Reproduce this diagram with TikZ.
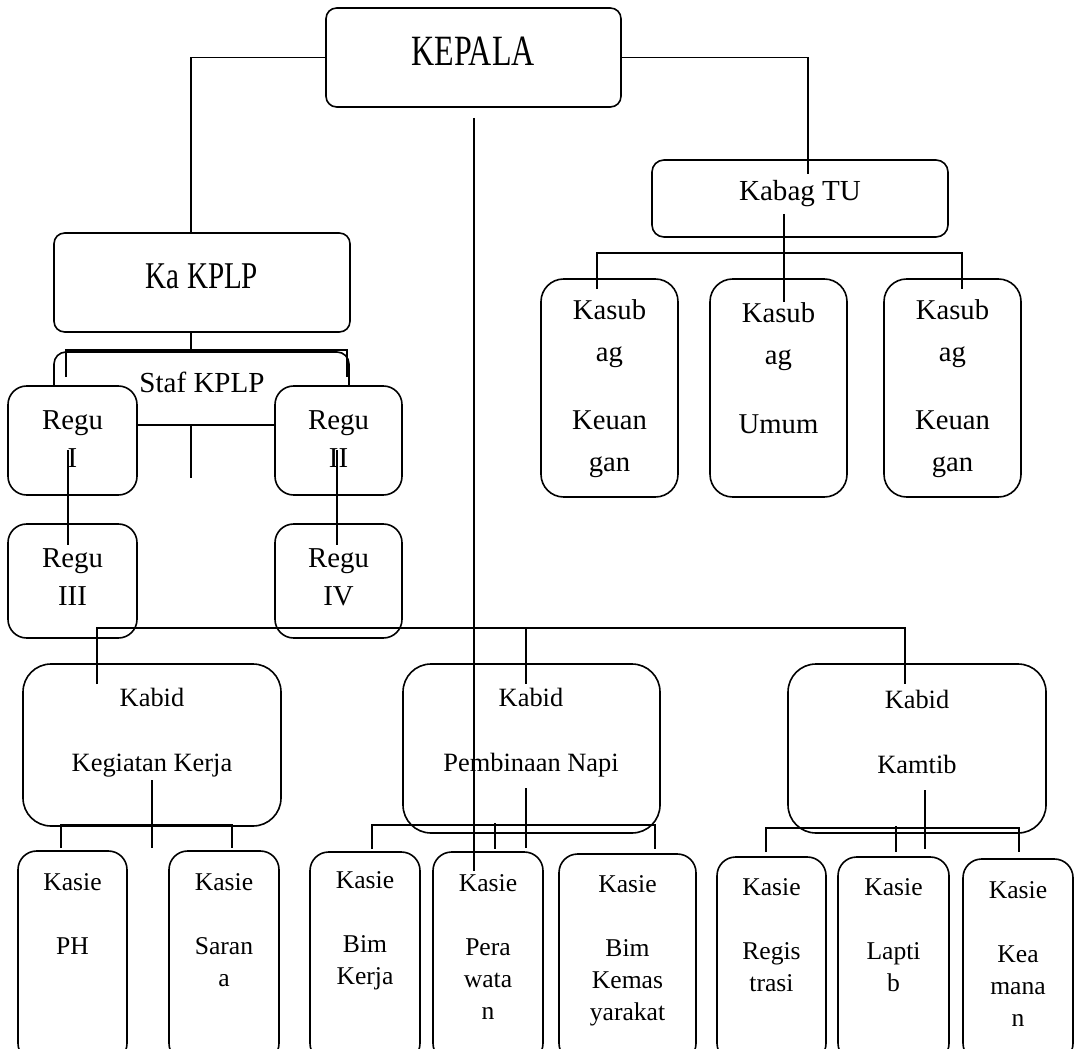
\documentclass[tikz,border=0pt]{standalone}
\usepackage{fontspec}
\usepackage{graphicx}
\setmainfont{Liberation Serif}
\usetikzlibrary{calc}
\newcommand\myKepalaFont{\fontsize{24pt}{28pt}\selectfont}
\newcommand\myTopFont{\fontsize{21.8pt}{28pt}\selectfont}
\newcommand\myReguFont{\fontsize{21.6pt}{28.5pt}\selectfont}
\newcommand\mySubFont{\fontsize{21.5pt}{31.5pt}\selectfont}
\newcommand\myKabidFont{\fontsize{19.8pt}{24pt}\selectfont}
\newcommand\myKasieFont{\fontsize{19.2pt}{24pt}\selectfont}
\newcommand\obox[6]{%
  \pgfmathsetmacro\myBW{(#4-#2)*0.75}%
  \pgfmathsetmacro\myBH{(#5-#3)*0.75}%
  \node[obx, rounded corners=#6pt, minimum width=\myBW pt, minimum height=\myBH pt] (#1) at ({(#2+#4)/2},{(#3+#5)/2}) {};}
\begin{document}
\begin{tikzpicture}[x=0.75pt,y=-0.75pt,
  obx/.style={draw, line width=1.2pt, fill=white, inner sep=0pt},
  ln/.style={draw, line width=1.15pt},
  txt/.style={align=center, inner sep=0pt}]
\path[use as bounding box] (0,0) rectangle (1080,1048);
\clip (0,0) rectangle (1080,1048);
\fill[white] (0,0) rectangle (1080,1048);

% boxes
\obox{staf}{54}{352}{349}{425}{9}
\obox{kepala}{326}{8}{621}{107}{8}
\obox{kaplp}{54}{233}{350}{332}{8}
\obox{kabag}{652}{160}{948}{237}{9}
\obox{ksb1}{541}{279}{678}{497}{17}
\obox{ksb2}{710}{279}{847}{497}{17}
\obox{ksb3}{884}{279}{1021}{497}{17}
\obox{regu1}{8}{386}{137}{495}{14}
\obox{regu2}{275}{386}{402}{495}{14}
\obox{regu3}{8}{524}{137}{638}{14}
\obox{regu4}{275}{524}{402}{638}{14}
\obox{kabid1}{23}{664}{281}{826}{21}
\obox{kabid2}{403}{664}{660}{833}{21}
\obox{kabid3}{788}{664}{1046}{833}{21}
\obox{ph}{18}{851}{127}{1062}{14}
\obox{sarana}{169}{851}{279}{1062}{14}
\obox{bimkerja}{310}{852}{420}{1062}{14}
\obox{perawatan}{433}{852}{543}{1062}{14}
\obox{kemas}{559}{854}{696}{1062}{14}
\obox{regis}{717}{857}{826}{1062}{14}
\obox{laptib}{838}{857}{949}{1062}{14}
\obox{keamanan}{963}{859}{1073}{1062}{14}

% texts
\node[txt, font=\myKepalaFont] (kepalaT) at (473,51) {\scalebox{1}[1.35]{KEPALA}};
\node[txt, font=\myTopFont] (kaplpT) at (202,276) {\scalebox{1}[1.3]{Ka KPLP}};
\node[txt, font=\myTopFont] (kabagT) at (800,194) {Kabag TU};
\node[txt, font=\myTopFont] (stafT) at (202,382) {Staf KPLP};
\node[txt, font=\myReguFont] (regu1T) at (72.5,439) {Regu\\I};
\node[txt, font=\myReguFont] (regu2T) at (338.5,439) {Regu\\II};
\node[txt, font=\myReguFont] (regu3T) at (72.5,577.5) {Regu\\III};
\node[txt, font=\myReguFont] (regu4T) at (338.5,577.5) {Regu\\IV};
\node[txt, font=\mySubFont] (ksb1T) at (609.5,388.5) {Kasub\\ag\\[20pt]Keuan\\gan};
\node[txt, font=\mySubFont] (ksb2T) at (778.5,368.5) {Kasub\\ag\\[20pt]Umum};
\node[txt, font=\mySubFont] (ksb3T) at (952.5,388.5) {Kasub\\ag\\[20pt]Keuan\\gan};
\node[txt, font=\myKabidFont] (kabid1T) at (152,732.5) {Kabid\\[24.75pt]Kegiatan Kerja};
\node[txt, font=\myKabidFont] (kabid2T) at (531,732.5) {Kabid\\[24.75pt]Pembinaan Napi};
\node[txt, font=\myKabidFont] (kabid3T) at (917,731.5) {Kabid\\[24.75pt]Kamtib};
\node[txt, font=\myKasieFont] (phT) at (72.5,914) {Kasie\\[24pt]PH};
\node[txt, font=\myKasieFont] (saranaT) at (224,930) {Kasie\\[24pt]Saran\\a};
\node[txt, font=\myKasieFont] (bimkerjaT) at (365,931) {Kasie\\[24pt]Bim\\Kerja};
\node[txt, font=\myKasieFont] (perawatanT) at (488,947.5) {Kasie\\[24pt]Pera\\wata\\n};
\node[txt, font=\myKasieFont] (kemasT) at (627.5,951) {Kasie\\[24pt]Bim\\Kemas\\yarakat};
\node[txt, font=\myKasieFont] (regisT) at (771.5,935) {Kasie\\[24pt]Regis\\trasi};
\node[txt, font=\myKasieFont] (laptibT) at (893.5,935) {Kasie\\[24pt]Lapti\\b};
\node[txt, font=\myKasieFont] (keamananT) at (1018,954.5) {Kasie\\[24pt]Kea\\mana\\n};

% connectors
\draw[ln] (kepala.west) -| ($(kaplp.north)+(-11,0)$);
\draw[ln] (kepala.east) -| ($(kabag.north)+(8,15)$);
\draw[ln] ($(kepala.south)+(0.5,10)$) -- ($(perawatan.north)+(-14,20)$);
\draw[ln] ($(kaplp.south)+(-11,0)$) -- ($(staf.north)+(-10.5,-1)$);
\draw[ln] ($(regu1.north)+(-6.5,-8)$) |- ($(staf.north)+(0,-1)$) -| ($(regu2.north)+(8.5,-8)$);
\draw[ln] ($(staf.south)+(-10.5,0)$) -- ++(0,52);
\draw[ln] ($(regu1.center)+(-4.5,9.5)$) -- ($(regu3.north)+(-4.5,22)$);
\draw[ln] ($(regu2.center)+(-1.5,9.5)$) -- ($(regu4.north)+(-1.5,22)$);
\draw[ln] ($(kabag.center)+(-16,15.5)$) -- ($(ksb2.north)+(5.5,24)$);
\draw[ln] ($(ksb1.north)+(-12.5,11)$) |- ($(kabag.south)+(0,15)$) -| ($(ksb3.north)+(9.5,11)$);
\draw[ln] ($(kabid1.north)+(-55,21)$) |- ($(kabid2.north)+(-5.5,-35)$) -| ($(kabid3.north)+(-12,21)$);
\draw[ln] ($(kabid2.north)+(-5.5,-35)$) -- ($(kabid2.north)+(-5.5,21)$);
\draw[ln] ($(kabid1.center)+(0,35)$) -- ($(kabid1.south)+(0,21)$);
\draw[ln] ($(ph.north)+(-11.5,-2)$) |- ($(kabid1.south)+(0,-2)$) -| ($(sarana.north)+(8,-2)$);
\draw[ln] ($(kabid2.center)+(-5.5,39.5)$) -- ($(kabid2.south)+(-5.5,14)$);
\draw[ln] ($(bimkerja.north)+(7,-2)$) |- ($(kabid2.south)+(0,-9)$) -| ($(kemas.north)+(27.5,-4)$);
\draw[ln] ($(perawatan.north)+(7,-28)$) -- ($(perawatan.north)+(7,-2)$);
\draw[ln] ($(kabid3.center)+(8,41.5)$) -- ($(kabid3.south)+(8,15)$);
\draw[ln] ($(regis.north)+(-5.5,-4)$) |- ($(kabid3.south)+(0,-6)$) -| ($(keamanan.north)+(1,-6)$);
\draw[ln] ($(laptib.north)+(2.5,-30)$) -- ($(laptib.north)+(2.5,-4)$);
\end{tikzpicture}
\end{document}
